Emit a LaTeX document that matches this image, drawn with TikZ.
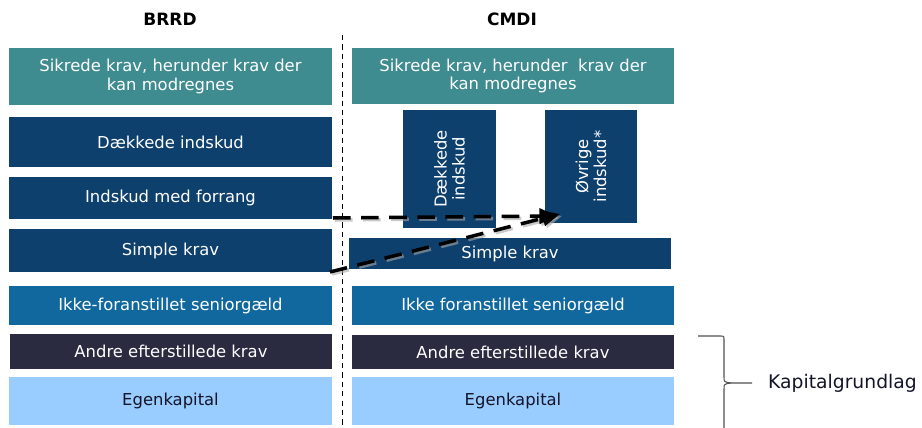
\documentclass[tikz,border=0pt]{standalone}
\usepackage{fontspec}
\setmainfont{DejaVu Sans}
\usetikzlibrary{arrows.meta}
\definecolor{cteal}{RGB}{62,139,144}
\definecolor{cdark}{RGB}{14,64,110}
\definecolor{cmed}{RGB}{16,104,158}
\definecolor{cnavy}{RGB}{42,42,64}
\definecolor{clight}{RGB}{153,204,255}
\definecolor{ctxt}{RGB}{20,20,40}
\definecolor{cbrace}{RGB}{80,80,80}
\tikzset{
  box/.style={draw=none, inner sep=0pt, align=center, text=white, font=\fontsize{14}{15.5}\selectfont},
  tealbox/.style={box, fill=cteal},
  darkbox/.style={box, fill=cdark},
  medbox/.style={box, fill=cmed},
  navybox/.style={box, fill=cnavy},
  lightbox/.style={box, fill=clight, text=ctxt},
  title/.style={font=\bfseries\fontsize{14.5}{16}\selectfont, text=black},
  flow/.style={line width=3pt, dash pattern=on 15pt off 9pt, -{Triangle[length=15pt,width=13pt]}, black},
  shadowflow/.style={line width=3pt, dash pattern=on 15pt off 9pt, -{Triangle[length=15pt,width=13pt]}, black!35, opacity=0.6},
}
\newcommand\pbox[7]{%
  \node[#6, minimum width={(#4-#2)*0.03cm}, minimum height={(#5-#3)*0.03cm}] (#1) at ({(#2+#4)/2},{(#3+#5)/2}) {#7};}
\begin{document}
\begin{tikzpicture}[x=0.03cm, y=-0.03cm]
\useasboundingbox (0,0) rectangle (922,428);
% titles
\node[title] (brrd) at (170,19) {BRRD};
\node[title] (cmdi) at (512,19) {CMDI};
% divider
\coordinate (dtop) at (342,35);
\coordinate (dbot) at (342,428);
\draw[black, line width=0.8pt, dash pattern=on 4.5pt off 3.5pt] (dtop) -- (dbot);
% left column
\pbox{l1}{9}{48}{332}{105}{tealbox}{Sikrede krav, herunder krav der\\kan modregnes}
\pbox{l2}{9}{117}{332}{167}{darkbox}{Dækkede indskud}
\pbox{l3}{9}{177}{332}{219}{darkbox}{Indskud med forrang}
\pbox{l4}{9}{229}{332}{272}{darkbox}{Simple krav}
\pbox{l5}{9}{286}{332}{325}{medbox}{Ikke-foranstillet seniorgæld}
\pbox{l6}{10}{334}{332}{369}{navybox}{Andre efterstillede krav}
\pbox{l7}{9}{377}{332}{425}{lightbox}{Egenkapital}
% right column
\pbox{r1}{352}{48}{674}{104}{tealbox}{Sikrede krav, herunder\ \ krav der\\kan modregnes}
\pbox{r4}{349}{238}{671}{269}{darkbox}{Simple krav}
\pbox{r5}{352}{286}{674}{325}{medbox}{Ikke foranstillet seniorgæld}
\pbox{r6}{352}{335}{674}{369}{navybox}{Andre efterstillede krav}
\pbox{r7}{352}{377}{674}{425}{lightbox}{Egenkapital}
\pbox{r2}{403}{110}{496}{228}{darkbox}{}
\pbox{r3}{545}{110}{637}{223}{darkbox}{}
\node[box, rotate=90] (r2t) at (r2) {Dækkede\\indskud};
\node[box, rotate=90] (r3t) at (r3) {Øvrige\\indskud*};
% arrows
\coordinate (a1s) at (333,218);
\coordinate (a2s) at (330,272);
\coordinate (ae) at (560,214);
\coordinate (a1e) at (557,216);
\draw[shadowflow] ([shift={(2,2)}]a1s) -- ([shift={(2,2)}]a1e);
\draw[shadowflow] ([shift={(2,2)}]a2s) -- ([shift={(2,2)}]ae);
\draw[flow] (a1s) -- (a1e);
\draw[flow] (a2s) -- (ae);
% brace
\coordinate (bt) at (698,336);
\coordinate (bm) at (752,383);
\coordinate (bb) at (724,428);
\draw[cbrace, line width=0.9pt, line join=round]
  (bt) -- (720,336) .. controls (724,336) .. (724,340) -- (724,377)
  .. controls (724,382) .. (731,383) -- (bm);
\draw[cbrace, line width=0.9pt] (731,383) .. controls (724,384) .. (724,389) -- (bb);
\node[anchor=west, inner sep=0pt, font=\fontsize{16}{18}\selectfont, text=ctxt] (kap) at (768,383) {Kapitalgrundlag};
\end{tikzpicture}
\end{document}
